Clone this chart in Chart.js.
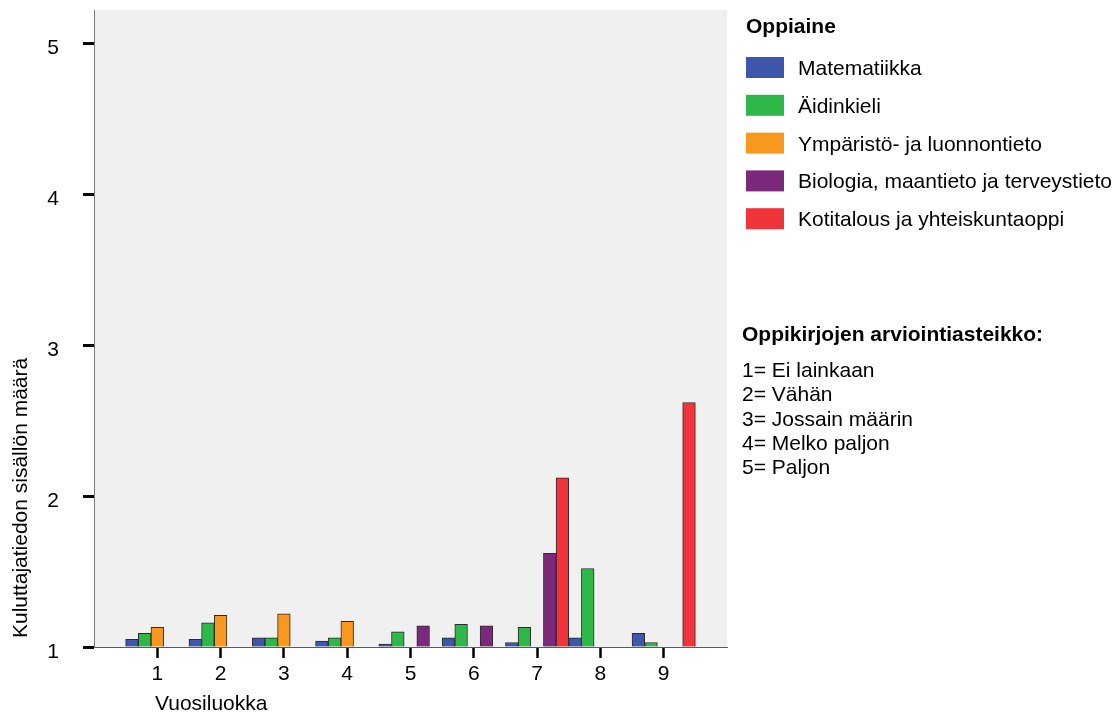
<!DOCTYPE html>
<html>
<head>
<meta charset="utf-8">
<script src="https://cdn.jsdelivr.net/npm/chart.js@4/dist/chart.umd.min.js"></script>
<style>
  html, body { margin: 0; padding: 0; background: #fff; }
  #wrap { width: 1112px; height: 713px; position: relative; }
</style>
</head>
<body>
<div id="wrap"><canvas id="chart"></canvas></div>
<script>
// values, scale 1..5 (null = no bar)
const grades = ['1', '2', '3', '4', '5', '6', '7', '8', '9'];
const subjects = ['Matematiikka', 'Äidinkieli', 'Ympäristö- ja luonnontieto',
  'Biologia, maantieto ja terveystieto', 'Kotitalous ja yhteiskuntaoppi'];
const matematiikka = [1.05, 1.05, 1.06, 1.04, 1.02, 1.06, 1.03, 1.06, 1.09];
const aidinkieli   = [1.09, 1.16, 1.06, 1.06, 1.10, 1.15, 1.13, 1.52, 1.03];
const ymparisto    = [1.13, 1.21, 1.22, 1.17, null, null, null, null, null];
const biologia     = [null, null, null, null, 1.14, 1.14, 1.62, null, null];
const kotitalous   = [null, null, null, null, null, null, 2.12, null, 2.62];
const yTicks = [1, 2, 3, 4, 5];
const scaleTitle = 'Oppikirjojen arviointiasteikko:';
const scaleLines = ['1= Ei lainkaan', '2= Vähän', '3= Jossain määrin', '4= Melko paljon', '5= Paljon'];

const colors = ['#3e57aa', '#2eb84a', '#f8981e', '#7b2a7b', '#f1343c'];
const FONT = "'Liberation Sans', Arial, sans-serif";
const SIZE = 21;

const series = [matematiikka, aidinkieli, ymparisto, biologia, kotitalous];
const datasets = series.map((vals, i) => ({
  label: subjects[i],
  data: grades.map((g, j) => ({ x: Number(g), y: vals[j] })),
  backgroundColor: colors[i],
  borderColor: '#2b2b2b',
  borderWidth: 1,
  base: 1,
  categoryPercentage: 1,
  barPercentage: 1
}));

const decorations = {
  id: 'decorations',
  beforeDraw(chart) {
    const { ctx, chartArea: a } = chart;
    ctx.save();
    ctx.fillStyle = '#f0f0f0';
    ctx.fillRect(a.left, a.top, a.right - a.left, a.bottom - a.top);
    ctx.restore();
  },
  afterDraw(chart) {
    const { ctx } = chart;
    ctx.save();
    ctx.fillStyle = '#000';
    ctx.textBaseline = 'alphabetic';
    ctx.textAlign = 'left';
    ctx.font = SIZE + 'px ' + FONT;
    // axis titles
    ctx.fillText('Vuosiluokka', 155, 710);
    ctx.save();
    ctx.translate(27, 638);
    ctx.rotate(-Math.PI / 2);
    ctx.fillText('Kuluttajatiedon sisällön määrä', 0, 0);
    ctx.restore();

    // legend
    ctx.font = 'bold ' + SIZE + 'px ' + FONT;
    ctx.fillText('Oppiaine', 746, 33);
    ctx.font = SIZE + 'px ' + FONT;
    subjects.forEach((s, i) => {
      const top = 57 + i * 37.8;
      ctx.fillStyle = colors[i];
      ctx.fillRect(746, top, 38, 21);
      ctx.fillStyle = '#000';
      ctx.fillText(s, 798, top + 18);
    });

    ctx.font = 'bold ' + SIZE + 'px ' + FONT;
    ctx.fillText(scaleTitle, 742, 341);
    ctx.font = SIZE + 'px ' + FONT;
    scaleLines.forEach((t, i) => ctx.fillText(t, 742, 377 + i * 24.3));
    ctx.restore();
  }
};

new Chart(document.getElementById('chart'), {
  type: 'bar',
  data: { datasets },
  plugins: [decorations],
  options: {
    responsive: true,
    maintainAspectRatio: false,
    animation: false,
    layout: { padding: { top: 10, right: 385, left: 0, bottom: 0 } },
    plugins: { legend: { display: false }, tooltip: { enabled: false } },
    scales: {
      x: {
        type: 'linear',
        min: 0,
        max: 10,
        offset: false,
        afterBuildTicks: s => { s.ticks = grades.map(g => ({ value: Number(g) })); },
        afterFit: s => { s.height = 66; s.paddingLeft = 0; s.paddingRight = 0; },
        ticks: { color: '#000', font: { family: FONT, size: SIZE }, padding: 4, maxRotation: 0,
          callback: v => String(v) },
        grid: { offset: false, drawOnChartArea: false, tickLength: 11, tickWidth: 2.5, color: '#000' },
        border: { color: '#5a5a5a', width: 1 }
      },
      y: {
        min: 1,
        max: 5.22,
        afterBuildTicks: s => { s.ticks = yTicks.map(v => ({ value: v })); },
        afterFit: s => { s.width = 94; s.paddingTop = 0; s.paddingBottom = 0; },
        ticks: { color: '#000', font: { family: FONT, size: SIZE }, padding: 24, labelOffset: 5 },
        grid: { drawOnChartArea: false, tickLength: 11, tickWidth: 3, color: '#000' },
        border: { color: '#7a7a7a', width: 1 }
      }
    }
  }
});
</script>
</body>
</html>
